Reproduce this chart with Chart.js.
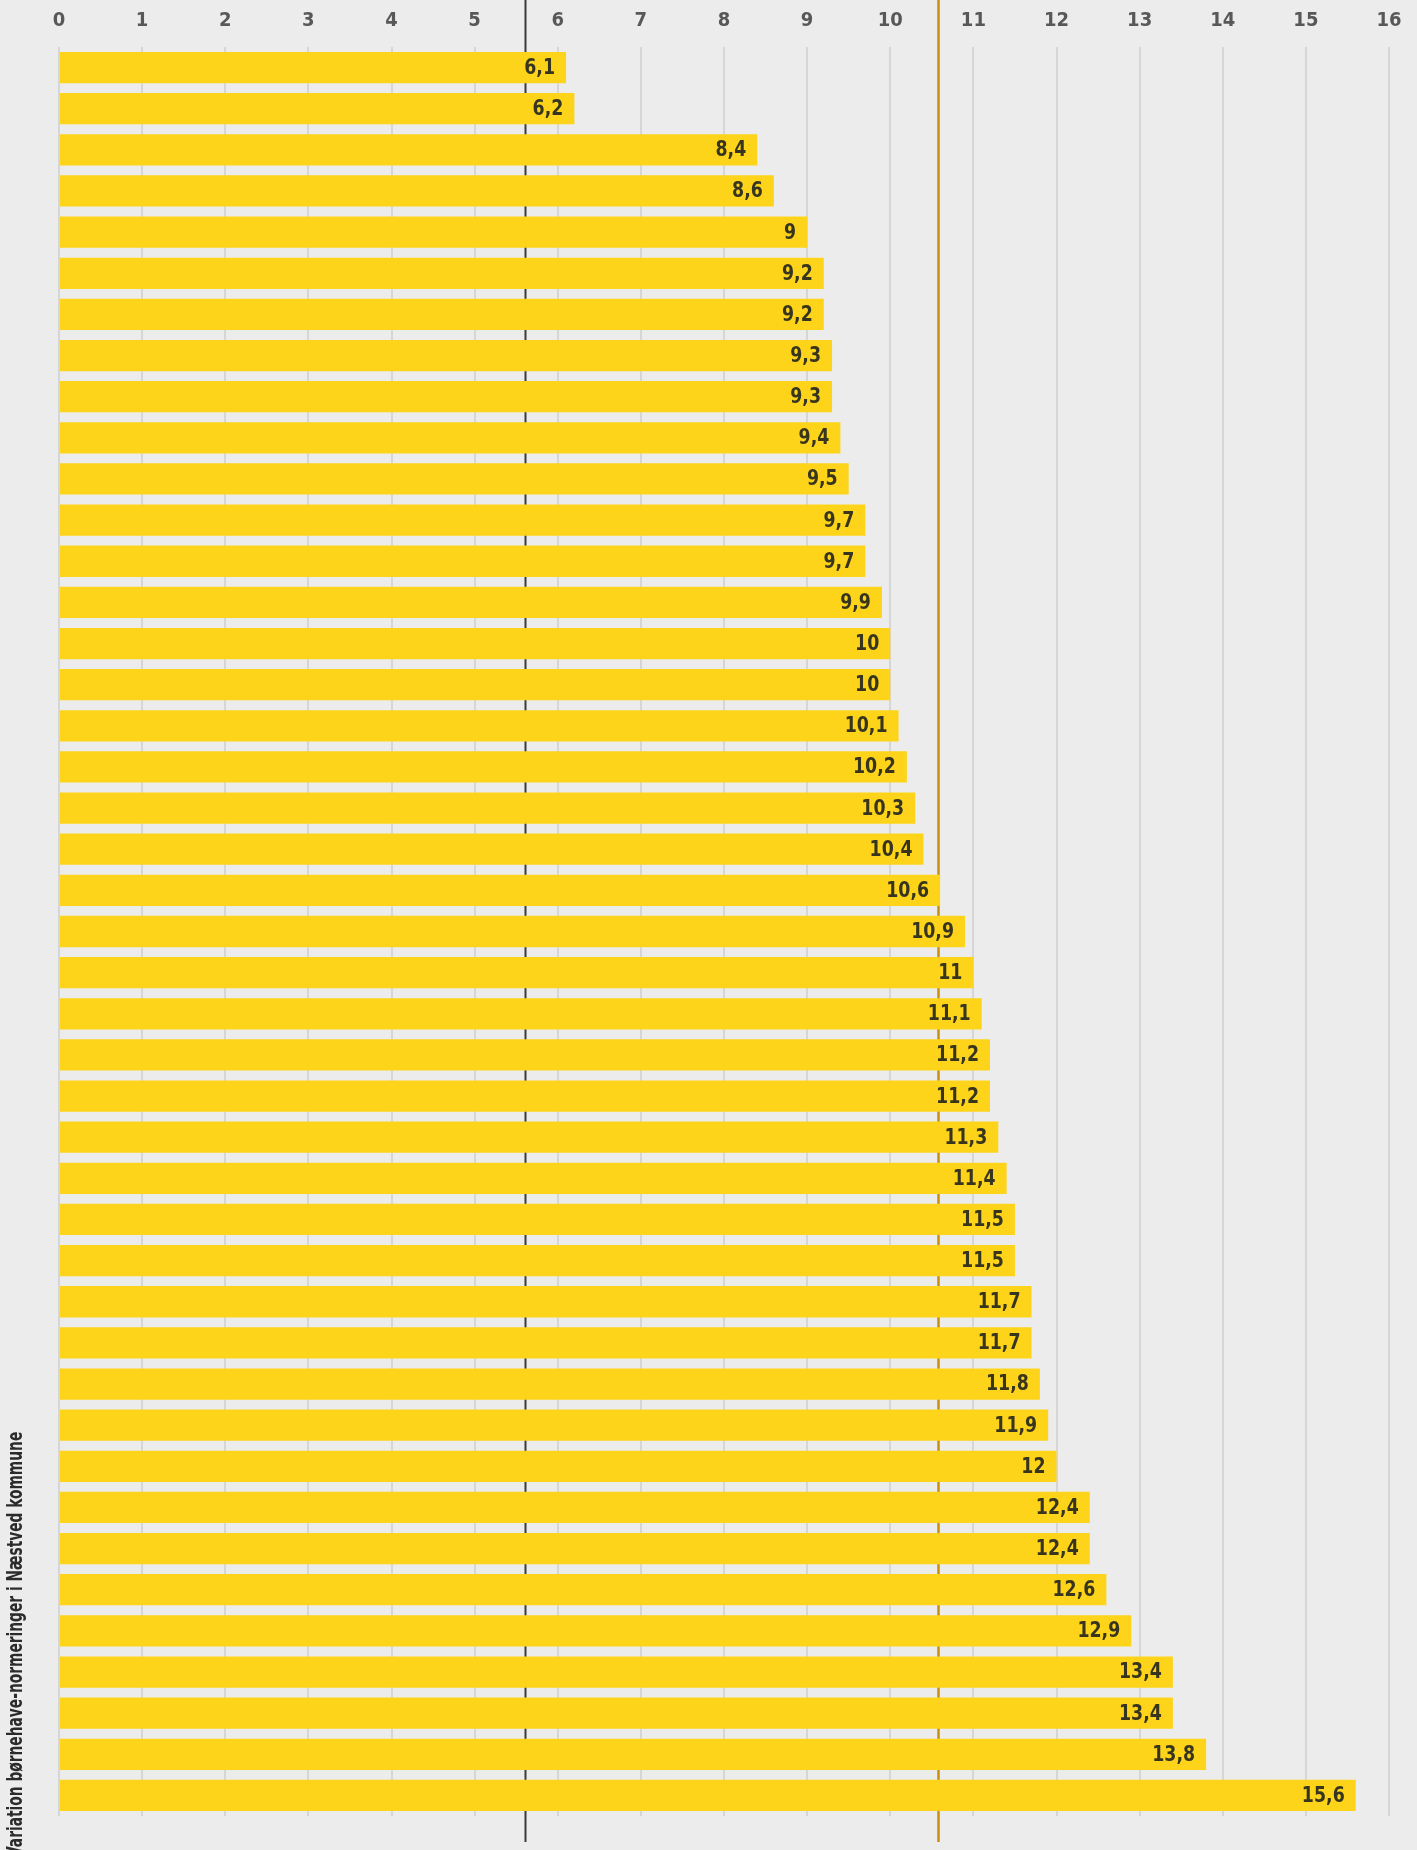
<!DOCTYPE html>
<html lang="da">
<head>
<meta charset="utf-8">
<title>Variation børnehave-normeringer i Næstved kommune</title>
<script src="https://cdn.jsdelivr.net/npm/chart.js@4.4.1/dist/chart.umd.min.js"></script>
<style>
    html, body { margin: 0; padding: 0; background: #ececec; }
    #wrap { position: relative; width: 1417px; height: 1850px; overflow: hidden; }
</style>
</head>
<body>
<div id="wrap"><canvas id="normChart" width="1417" height="1850"></canvas></div>
<script>
// Institutioner (ingen navne i grafikken) - sorteret efter normering
const labels = [
    'A1', 'A2', 'A3', 'A4', 'A5', 'A6', 'A7', 'A8', 'A9', 'A10',
    'A11', 'A12', 'A13', 'A14', 'A15', 'A16', 'A17', 'A18', 'A19', 'A20',
    'A21', 'A22', 'A23', 'A24', 'A25', 'A26', 'A27', 'A28', 'A29', 'A30',
    'A31', 'A32', 'A33', 'A34', 'A35', 'A36', 'A37', 'A38', 'A39', 'A40',
    'A41', 'A42', 'A43'
];
const values = [
    6.1, 6.2, 8.4, 8.6, 9, 9.2, 9.2, 9.3, 9.3, 9.4,
    9.5, 9.7, 9.7, 9.9, 10, 10, 10.1, 10.2, 10.3, 10.4,
    10.6, 10.9, 11, 11.1, 11.2, 11.2, 11.3, 11.4, 11.5, 11.5,
    11.7, 11.7, 11.8, 11.9, 12, 12.4, 12.4, 12.6, 12.9, 13.4,
    13.4, 13.8, 15.6
];
const xTicks = [0, 1, 2, 3, 4, 5, 6, 7, 8, 9, 10, 11, 12, 13, 14, 15, 16];
// Lodrette referencelinjer (aflæst)
const refLines = [
    { value: 5.6, color: '#3a3a3a', width: 2 },
    { value: 10.58, color: '#c98f0e', width: 2.5 }
];
const title = 'Variation børnehave-normeringer i Næstved kommune';

const FONT = '"Liberation Sans Narrow", "DejaVu Sans Condensed", Arial, sans-serif';
const fmt = v => String(v).replace('.', ',');

// Referencelinjer bag søjlerne
const refLinePlugin = {
    id: 'refLines',
    beforeDatasetsDraw(chart) {
        const { ctx, scales: { x } } = chart;
        ctx.save();
        refLines.forEach(r => {
            const px = Math.round(x.getPixelForValue(r.value)) + 0.5;
            ctx.beginPath();
            ctx.strokeStyle = r.color;
            ctx.lineWidth = r.width;
            ctx.moveTo(px, 0);
            ctx.lineTo(px, 1842);
            ctx.stroke();
        });
        ctx.restore();
    }
};

// Værdier inde i enden af hver søjle (smal skrift via vandret skalering)
const valueLabelPlugin = {
    id: 'valueLabels',
    afterDatasetsDraw(chart) {
        const { ctx } = chart;
        const meta = chart.getDatasetMeta(0);
        meta.data.forEach((bar, i) => {
            ctx.save();
            ctx.translate(bar.x - 11, bar.y + 1);
            ctx.scale(0.92, 1);
            ctx.font = 'bold 21px ' + FONT;
            ctx.fillStyle = '#38351f';
            ctx.textAlign = 'right';
            ctx.textBaseline = 'middle';
            ctx.fillText(fmt(values[i]), 0, 0);
            ctx.restore();
        });
    }
};

// Lodret titel i venstre side
const sideTitlePlugin = {
    id: 'sideTitle',
    afterDraw(chart) {
        const { ctx } = chart;
        ctx.save();
        ctx.translate(17, 1857);
        ctx.rotate(-Math.PI / 2);
        ctx.scale(0.73, 1);
        ctx.font = 'bold 21px ' + FONT;
        ctx.fillStyle = '#2b2b2b';
        ctx.textAlign = 'left';
        ctx.textBaseline = 'middle';
        ctx.fillText(title, 0, 0);
        ctx.restore();
    }
};

const ctx = document.getElementById('normChart').getContext('2d');
new Chart(ctx, {
    type: 'bar',
    data: {
        labels: labels,
        datasets: [{
            data: values,
            backgroundColor: '#fdd419',
            borderWidth: 0,
            barPercentage: 0.76,
            categoryPercentage: 1
        }]
    },
    options: {
        indexAxis: 'y',
        responsive: false,
        animation: false,
        layout: { padding: { left: 59, right: 28, top: 0, bottom: 34 } },
        plugins: {
            legend: { display: false },
            tooltip: { enabled: false }
        },
        scales: {
            x: {
                position: 'top',
                min: 0,
                max: 16,
                afterBuildTicks: axis => { axis.ticks = xTicks.map(v => ({ value: v })); },
                afterFit: axis => { axis.height = 47; },
                border: { display: false },
                grid: { color: '#d6d6d6', lineWidth: 2, drawTicks: false },
                ticks: {
                    padding: 14,
                    color: '#585858',
                    font: { family: FONT, size: 20, weight: 'bold' },
                    callback: v => fmt(v)
                }
            },
            y: {
                display: false
            }
        }
    },
    plugins: [refLinePlugin, valueLabelPlugin, sideTitlePlugin]
});
</script>
</body>
</html>
